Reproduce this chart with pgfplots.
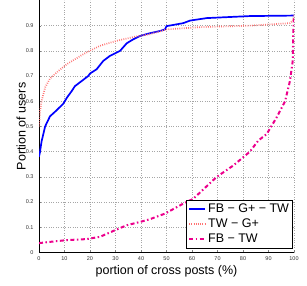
\documentclass[border=0pt]{standalone}
\usepackage{fontspec}
\setmainfont{Liberation Sans}
\usepackage{pgfplots}
\pgfplotsset{compat=1.18}
\begin{document}
\begin{tikzpicture}
\begin{axis}[
  scale only axis, width=255pt, height=252pt,
  xmin=0, xmax=100, ymin=0, ymax=1,
  xtick={0,10,...,100}, ytick={0,0.1,...,0.9},
  axis lines*=left,
  tick align=inside,
  major tick length=2pt,
  grid=major, grid style={dotted, gray!70, line width=0.6pt},
  axis line style={line width=0.9pt},
  /pgf/number format/assume math mode=true,
  /pgf/number format/fixed,
  tick label style={font=\fontsize{5.5}{6}\selectfont, text=black!80},
  xticklabel style={yshift=-1pt},
  yticklabel style={xshift=-2pt},
  xlabel={portion of cross posts (\%)},
  ylabel={Portion of users},
  label style={font=\fontsize{12.5}{14}\selectfont},
  xlabel style={at={(axis description cs:0.5,-0.075)}, anchor=center},
  ylabel style={at={(axis description cs:-0.07,0.5)}, anchor=center},
  legend style={at={(0.996,0.016)}, anchor=south east, draw=black, line width=0.9pt,
     font=\fontsize{12.5}{14}\selectfont, inner sep=1.5pt, row sep=1pt},
  legend cell align=left,
]
\addplot[blue, line width=1.7pt, legend image code/.code={\draw[blue, line width=1.7pt] (0pt,0pt) -- (16pt,0pt);}] coordinates {
(0,0.38)(0.4,0.40)(1,0.44)(2.4,0.50)(4.3,0.54)(7,0.565)(9.5,0.59)(11,0.615)(12.8,0.64)(14.1,0.66)(16.7,0.68)(19.3,0.70)(20,0.71)(22.6,0.727)(25.2,0.76)(27.8,0.78)(31.8,0.80)(34.4,0.83)(37,0.846)(39.6,0.859)(43.5,0.87)(47.5,0.879)(49.4,0.885)(50,0.898)(56.6,0.91)(59.2,0.92)(65.8,0.93)(82.7,0.938)(100,0.94)
};
\addlegendentry{FB − G+ − TW}
\addplot[red!55, line width=1.7pt, dash pattern=on 0.8pt off 1.4pt, legend image code/.code={\draw[red!55, line width=1.7pt, dash pattern=on 0.8pt off 1.4pt] (0pt,0pt) -- (16pt,0pt);}] coordinates {
(0,0.5)(0.4,0.56)(1,0.60)(2.4,0.655)(4.3,0.69)(7.6,0.72)(10.9,0.747)(17.4,0.787)(23.9,0.82)(30.5,0.84)(37,0.855)(43.5,0.866)(50,0.885)(63,0.894)(82.7,0.90)(98.4,0.91)(99.5,0.92)(100,0.94)
};
\addlegendentry{TW − G+}
\addplot[magenta, line width=2pt, dash pattern=on 4pt off 2.5pt on 1.5pt off 2.5pt, legend image code/.code={\draw[magenta, line width=2pt, dash pattern=on 4pt off 2.5pt on 1.5pt off 2.5pt] (0pt,0pt) -- (16pt,0pt);}] coordinates {
(0,0.037)(4.3,0.042)(10.9,0.049)(18.7,0.053)(23.9,0.062)(29.1,0.085)(34.4,0.108)(39.6,0.121)(43.5,0.132)(47.5,0.147)(49.4,0.154)(56.6,0.194)(60.5,0.213)(69.7,0.30)(76.2,0.345)(82.7,0.40)(86,0.444)(89.3,0.47)(93.2,0.536)(96.5,0.60)(98.4,0.68)(99.5,0.76)(99.7,0.867)(100,0.94)
};
\addlegendentry{FB − TW}
\end{axis}
\path (current axis.south west) ++(-39pt,-33pt) coordinate (bl);
\path (current axis.north east) ++(13pt,0) coordinate (tr);
\path (bl) -- (tr);
\end{tikzpicture}
\end{document}
